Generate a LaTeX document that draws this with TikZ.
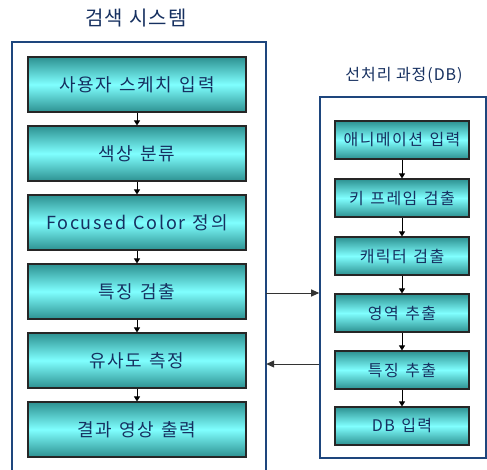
\documentclass[tikz,border=0pt]{standalone}
\usepackage{fontspec}
\setmainfont{Noto Sans CJK KR}
\newfontfamily\kr{Noto Sans CJK KR}[LetterSpace=9]
\newfontfamily\krb{Noto Sans CJK KR}[LetterSpace=9,WordSpace=1.3]
\newfontfamily\krt{Noto Sans CJK KR}[LetterSpace=6]
\usetikzlibrary{arrows.meta}
\definecolor{navy}{RGB}{22,48,96}
\definecolor{frameblue}{RGB}{30,70,125}
\definecolor{tealdark}{RGB}{45,145,145}
\definecolor{cyanlight}{RGB}{128,255,255}
\tikzset{
  flowbox/.style={draw=black!85, line width=1.1pt, top color=tealdark, bottom color=tealdark, middle color=cyanlight, text=navy, inner sep=0pt},
  bigbox/.style={flowbox, minimum width=218pt, minimum height=55pt, font=\krb\fontsize{18}{21}\selectfont},
  smallbox/.style={flowbox, minimum width=134pt, minimum height=38pt, font=\kr\fontsize{16}{19}\selectfont},
  frame/.style={draw=frameblue, line width=1.6pt},
  stepArrow/.style={draw=black, line width=0.9pt, -{Triangle[length=5pt,width=6pt]}},
  linkArrow/.style={draw=black!80, line width=1pt, -{Triangle[length=8pt,width=7pt]}},
  titletext/.style={text=navy}
}
\begin{document}
\begin{tikzpicture}[x=1pt,y=-1pt]
\useasboundingbox (0,0) rectangle (487,470);
% titles
\node[titletext, font=\krt\fontsize{20}{24}\selectfont] (t1) at (136,18) {검색 시스템};
\node[titletext, font=\krt\fontsize{16}{19}\selectfont] (t2) at (404,75) {선처리 과정(DB)};
% outer frames
\node[minimum width=254pt, minimum height=440pt, inner sep=0pt] (sys) at (139,262) {};
\draw[frame] (sys.south west) -- (sys.north west) -- (sys.north east) -- (sys.south east);
\node[frame, minimum width=166pt, minimum height=361pt, inner sep=0pt] (pre) at (403,277.5) {};
% left boxes
\node[bigbox] (s1) at (137,84.5) {사용자 스케치 입력};
\node[bigbox] (s2) at (137,153.5) {색상 분류};
\node[bigbox] (s3) at (137,222.5) {Focused Color 정의};
\node[bigbox] (s4) at (137,291.5) {특징 검출};
\node[bigbox] (s5) at (137,360.5) {유사도 측정};
\node[bigbox] (s6) at (137,429.5) {결과 영상 출력};
\foreach \a/\b in {s1/s2,s2/s3,s3/s4,s4/s5,s5/s6}
  \draw[stepArrow] (\a.south) -- (\b.north);
% right boxes
\node[smallbox] (p1) at (402,140) {애니메이션 입력};
\node[smallbox] (p2) at (402,198) {키 프레임 검출};
\node[smallbox] (p3) at (402,256) {캐릭터 검출};
\node[smallbox] (p4) at (402,313) {영역 추출};
\node[smallbox] (p5) at (402,370) {특징 추출};
\node[smallbox] (p6) at (402,426) {DB 입력};
\foreach \a/\b in {p1/p2,p2/p3,p3/p4,p4/p5,p5/p6}
  \draw[stepArrow] (\a.south) -- (\b.north);
% links between systems
\coordinate (ya) at (0,293);
\coordinate (yb) at (0,364);
\draw[linkArrow] (sys.east |- ya) -- (pre.west |- ya);
\draw[linkArrow] (pre.west |- yb) -- (sys.east |- yb);
\end{tikzpicture}
\end{document}
